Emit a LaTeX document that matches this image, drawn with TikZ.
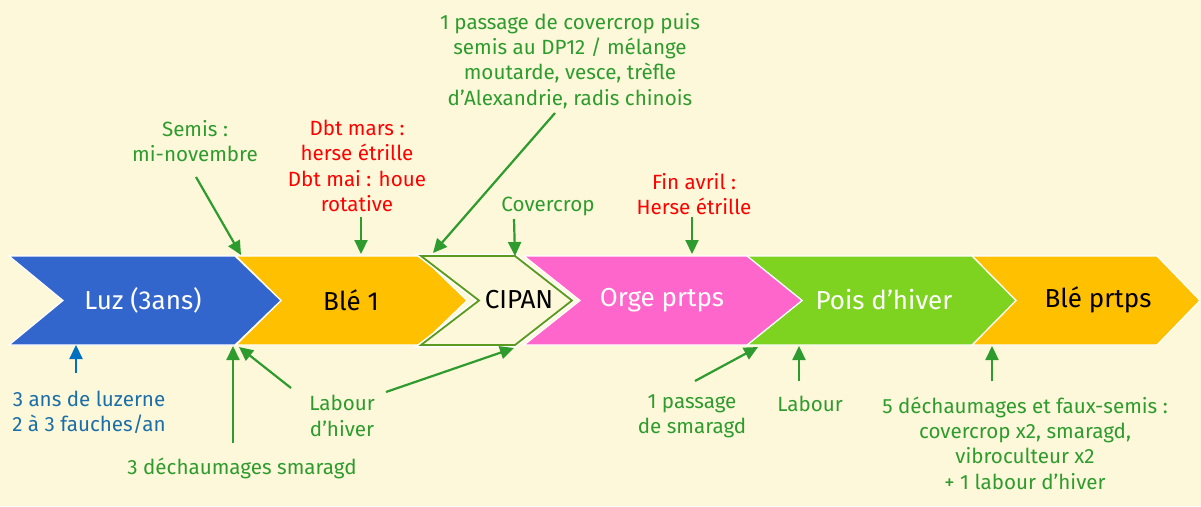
\documentclass[tikz,border=0pt]{standalone}
\usepackage{fontspec}
\setmainfont{Fira Sans}
\usetikzlibrary{arrows.meta}
\definecolor{bg}{HTML}{FDF8D9}
\definecolor{cblue}{HTML}{3366CC}
\definecolor{cyellow}{HTML}{FFC000}
\definecolor{cpink}{HTML}{FF66CC}
\definecolor{cgreen}{HTML}{7ED321}
\definecolor{txtgreen}{HTML}{2E9B2E}
\definecolor{txtblue}{HTML}{1B6FA8}
\definecolor{arrblue}{HTML}{0070C0}
\definecolor{cipanline}{HTML}{5A9A1E}
\tikzset{
  chev/.style={draw=white, line width=1.2pt},
  lbl/.style={inner sep=0pt, align=center, font=\fontsize{20.6}{25.3}\selectfont},
  inlbl/.style={inner sep=0pt, font=\fontsize{26}{30}\selectfont},
  garrow/.style={draw=txtgreen, line width=2.2pt, -{Triangle[length=14pt,width=13pt]}},
  barrow/.style={draw=arrblue, line width=2.2pt, -{Triangle[length=14pt,width=13pt]}},
}
\begin{document}
\begin{tikzpicture}[x=1pt,y=-1pt]
\fill[bg] (0,0) rectangle (1201,506);
\useasboundingbox (0,0) rectangle (1201,506);
% chevrons
\path[chev, fill=cyellow] (972,256) -- (1157,256) -- (1200,300.5) -- (1157,345) -- (972,345) -- (1016,300.5) -- cycle;
\path[chev, fill=cgreen] (747,256) -- (972,256) -- (1016,300.5) -- (972,345) -- (747,345) -- (802,300.5) -- cycle;
\path[chev, fill=cpink] (524,256) -- (747,256) -- (802,300.5) -- (747,345) -- (524,345) -- (580,300.5) -- cycle;
\path[chev, fill=cyellow] (236,256) -- (421,256) -- (467,300.5) -- (421,345) -- (236,345) -- (281,300.5) -- cycle;
\draw[white, line width=5pt, line join=miter] (421,256) -- (515,256) -- (572,300.5) -- (515,345) -- (421,345) -- (479,300.5) -- cycle;
\path[fill=bg, draw=cipanline, line width=1.8pt] (421,256) -- (515,256) -- (572,300.5) -- (515,345) -- (421,345) -- (479,300.5) -- cycle;
\path[chev, fill=cblue] (9,256) -- (235,256) -- (281,300.5) -- (235,345) -- (9,345) -- (63,300.5) -- cycle;
% chevron labels
\node[inlbl, text=white] (luz) at (143,300) {Luz (3ans)};
\node[inlbl, text=black] (ble1) at (351,300) {Blé 1};
\node[inlbl, text=black] (cipan) at (519,300) {CIPAN};
\node[inlbl, text=white] (orge) at (662,300) {Orge prtps};
\node[inlbl, text=white] (pois) at (884,300) {Pois d’hiver};
\node[inlbl, text=black] (bleprtps) at (1098,300) {Blé prtps};
% top labels
\node[lbl, text=txtgreen] (topnote) at (570,61) {1 passage de covercrop puis\\semis au DP12 / mélange\\moutarde, vesce, trèfle\\d’Alexandrie, radis chinois};
\node[lbl, text=txtgreen] (semis) at (195,141) {Semis :\\mi-novembre};
\node[lbl, text=red] (dbt) at (357,166) {Dbt mars :\\herse étrille\\Dbt mai : houe\\rotative};
\node[lbl, text=txtgreen] (cover) at (548,206) {Covercrop};
\node[lbl, text=red] (fin) at (694,194) {Fin avril :\\Herse étrille};
% bottom labels
\node[lbl, text=txtblue] (luzerne) at (89,412) {3 ans de luzerne\\2 à 3 fauches/an};
\node[lbl, text=txtgreen] (labhiver) at (342,416) {Labour\\d’hiver};
\node[lbl, text=txtgreen] (dech3) at (242,468) {3 déchaumages smaragd};
\node[lbl, text=txtgreen] (pass1) at (692,416) {1 passage\\de smaragd};
\node[lbl, text=txtgreen] (labour) at (810,404) {Labour};
\node[lbl, text=txtgreen] (dech5) at (1025,443) {5 déchaumages et faux-semis :\\covercrop x2, smaragd,\\vibroculteur x2\\+ 1 labour d’hiver};
% arrow end points
\coordinate (s1) at (196,177); \coordinate (t1) at (241,255);
\coordinate (s2) at (361,217); \coordinate (t2) at (361,254);
\coordinate (s3) at (555,113); \coordinate (t3) at (433,253);
\coordinate (s4) at (514,219); \coordinate (t4) at (515,256);
\coordinate (s5) at (692,217); \coordinate (t5) at (692,254);
\coordinate (s6) at (76,373);  \coordinate (t6) at (76,345);
\coordinate (s7) at (233,443); \coordinate (t7) at (233,346);
\coordinate (s8) at (291,388); \coordinate (t8) at (239,347);
\coordinate (s9) at (386,392); \coordinate (t9) at (514,348);
\coordinate (s10) at (695,381); \coordinate (t10) at (758,347);
\coordinate (s11) at (799,381); \coordinate (t11) at (799,346);
\coordinate (s12) at (992,381); \coordinate (t12) at (992,346);
\draw[garrow] (s1) -- (t1);
\draw[garrow] (s2) -- (t2);
\draw[garrow] (s3) -- (t3);
\draw[garrow] (s4) -- (t4);
\draw[garrow] (s5) -- (t5);
\draw[barrow] (s6) -- (t6);
\draw[garrow] (s7) -- (t7);
\draw[garrow] (s8) -- (t8);
\draw[garrow] (s9) -- (t9);
\draw[garrow] (s10) -- (t10);
\draw[garrow] (s11) -- (t11);
\draw[garrow] (s12) -- (t12);
\end{tikzpicture}
\end{document}
